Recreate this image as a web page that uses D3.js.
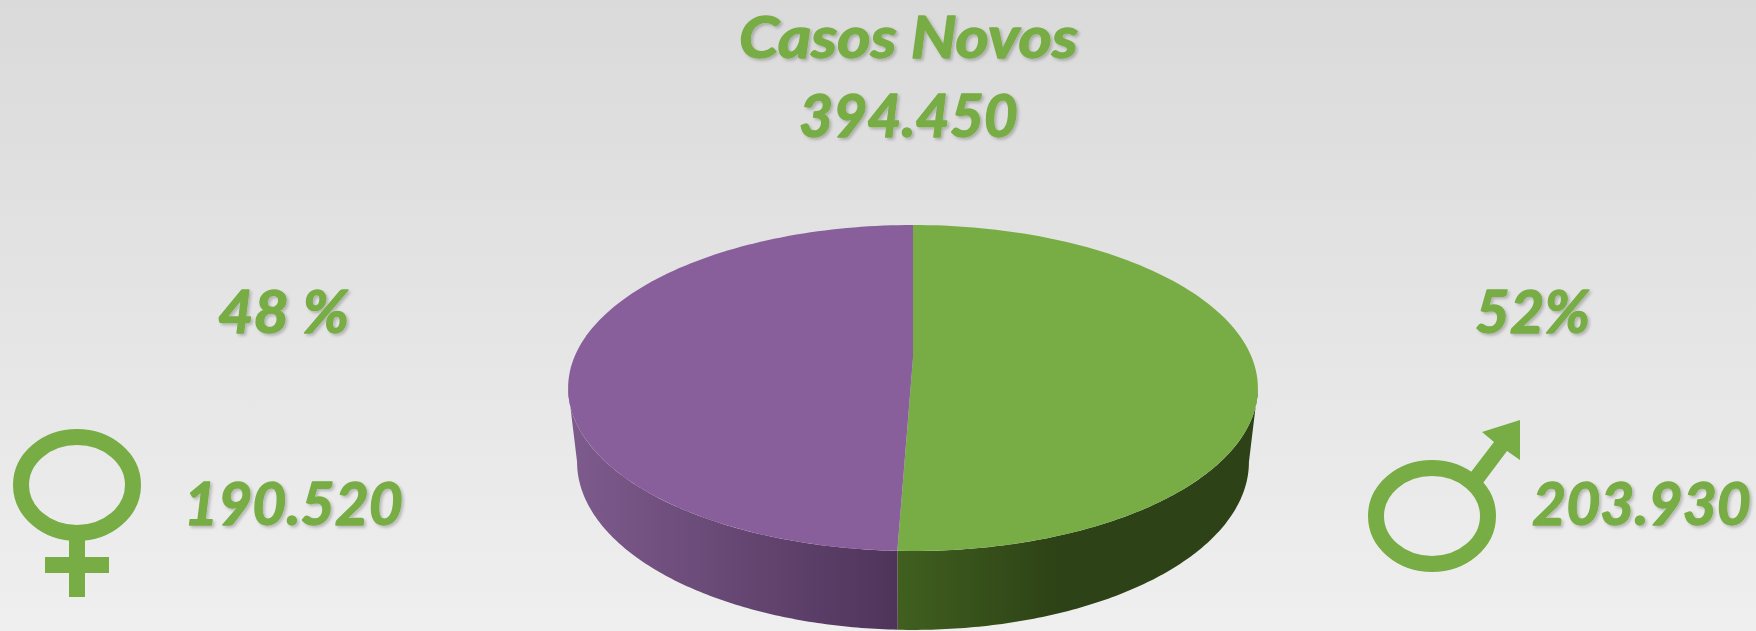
<!DOCTYPE html>
<html>
<head>
<meta charset="utf-8">
<script src="https://cdn.jsdelivr.net/npm/d3@7"></script>
<style>
  html, body { margin: 0; padding: 0; overflow: hidden; }
  text { font-family: Lato, "Open Sans", sans-serif; font-weight: 700; font-style: italic; fill: #78ad45; stroke: #78ad45; stroke-width: 1.4px; stroke-linejoin: round; filter: url(#ombre); }
</style>
</head>
<body>
<div id="container"></div>
<script>
/* les données */
const categories = ["Masculino", "Feminino"];
const casos = [203930, 190520];
// part de chaque tranche telle qu'elle est dessinée sur l'image (la perspective 3D fausse le 52/48)
const parts_dessinees = [50.6, 49.4];
const couleurs_dessus = ["#78ad45", "#885e9b"];
const titre = ["Casos Novos", "394.450"];
const pourcentages = ["52%", "48 %"];
const totaux = ["203.930", "190.520"];

const width = 1756;
const height = 631;

const svg = d3.create("svg")
    .attr("width", width)
    .attr("height", height)
    .style("display", "block");

const defs = svg.append("defs");

const fond = defs.append("linearGradient").attr("id", "fond").attr("x1", 0).attr("y1", 0).attr("x2", 0).attr("y2", 1);
fond.append("stop").attr("offset", 0).attr("stop-color", "#dadada");
fond.append("stop").attr("offset", 1).attr("stop-color", "#efefef");

const ombre = defs.append("filter").attr("id", "ombre").attr("x", "-10%").attr("y", "-10%").attr("width", "120%").attr("height", "130%");
ombre.append("feDropShadow")
    .attr("dx", 2).attr("dy", 2).attr("stdDeviation", 1.5)
    .attr("flood-color", "#000").attr("flood-opacity", 0.22);

const degrade_vert = defs.append("linearGradient").attr("id", "cote0").attr("gradientUnits", "userSpaceOnUse")
    .attr("x1", 897).attr("y1", 0).attr("x2", 1250).attr("y2", 0);
degrade_vert.append("stop").attr("offset", 0).attr("stop-color", "#41601f");
degrade_vert.append("stop").attr("offset", 0.45).attr("stop-color", "#2d4216");
degrade_vert.append("stop").attr("offset", 1).attr("stop-color", "#2d4216");

const degrade_violet = defs.append("linearGradient").attr("id", "cote1").attr("gradientUnits", "userSpaceOnUse")
    .attr("x1", 576).attr("y1", 0).attr("x2", 897).attr("y2", 0);
degrade_violet.append("stop").attr("offset", 0).attr("stop-color", "#7d5a8c");
degrade_violet.append("stop").attr("offset", 1).attr("stop-color", "#4f345a");

svg.append("rect").attr("width", width).attr("height", height).attr("fill", "url(#fond)");

/* la projection du disque: une homographie simple pour avoir la perspective */
const cx = 913, y0 = 358, R = 339, s = 157.5, k = 0.184;
const cy_rim = 388, cy_bas = 462, sx_bas = 0.974, sy_bas = 1.03;

function dessus(a) {
    const u = Math.sin(a), v = -Math.cos(a), w = 1 - k * v;
    return [cx + R * u / w, y0 + s * v / w];
}
function dessous(a) {
    const p = dessus(a);
    return [cx + (p[0] - cx) * sx_bas, cy_bas + (p[1] - cy_rim) * sy_bas];
}

const arcs = d3.pie().sort(null).value(d => d)(parts_dessinees);
const bord = Math.acos(-k);  // là ou le bord est le plus large
const ligne = d3.line();

function echantillons(a0, a1) {
    return d3.range(0, 121).map(i => a0 + (a1 - a0) * i / 120);
}

const pie = svg.append("g");

// les cotés d'abord, le dessus passe par dessus
pie.selectAll("path.cote")
    .data(arcs)
    .join("path")
    .attr("class", "cote")
    .attr("fill", (d, i) => `url(#cote${i})`)
    .attr("d", d => {
        const a0 = Math.max(d.startAngle, bord);
        const a1 = Math.min(d.endAngle, 2 * Math.PI - bord);
        const angles = echantillons(a0, a1);
        return ligne(angles.map(dessus).concat(angles.slice().reverse().map(dessous))) + "Z";
    });

pie.selectAll("path.dessus")
    .data(arcs)
    .join("path")
    .attr("class", "dessus")
    .attr("fill", (d, i) => couleurs_dessus[i])
    .attr("d", d => ligne([[cx, y0]].concat(echantillons(d.startAngle, d.endAngle).map(dessus))) + "Z");

/* les textes: textLength pour retomber sur la largeur de l'image */
const textes = [
    {t: titre[0], x: 739, y: 58, w: 339, size: 58},
    {t: titre[1], x: 799, y: 137, w: 219, size: 60},
    {t: pourcentages[1], x: 218, y: 333, w: 131, size: 60},
    {t: pourcentages[0], x: 1475, y: 333, w: 115, size: 60},
    {t: totaux[1], x: 184, y: 525, w: 219, size: 60},
    {t: totaux[0], x: 1532, y: 525, w: 219, size: 60}
];

svg.append("g").selectAll("text")
    .data(textes)
    .join("text")
    .attr("x", d => d.x)
    .attr("y", d => d.y)
    .attr("font-size", d => d.size)
    .attr("textLength", d => d.w)
    .attr("lengthAdjust", "spacingAndGlyphs")
    .text(d => d.t);

/* les symboles */
const vert = "#78ad45";

const femme = svg.append("g");
femme.append("ellipse")
    .attr("cx", 77).attr("cy", 485).attr("rx", 56).attr("ry", 48)
    .attr("fill", "none").attr("stroke", vert).attr("stroke-width", 16);
femme.append("rect").attr("x", 69).attr("y", 540).attr("width", 16).attr("height", 57).attr("fill", vert);
femme.append("rect").attr("x", 45).attr("y", 557).attr("width", 64).attr("height", 16).attr("fill", vert);

const homme = svg.append("g");
homme.append("ellipse")
    .attr("cx", 1432).attr("cy", 516).attr("rx", 56).attr("ry", 48)
    .attr("fill", "none").attr("stroke", vert).attr("stroke-width", 16);
homme.append("path")
    .attr("fill", vert)
    .attr("d", ligne([[1471, 472], [1494, 442], [1482, 432], [1520, 420], [1520, 460], [1507, 451], [1483, 483]]) + "Z");

d3.select("#container").node().append(svg.node());
</script>
</body>
</html>
